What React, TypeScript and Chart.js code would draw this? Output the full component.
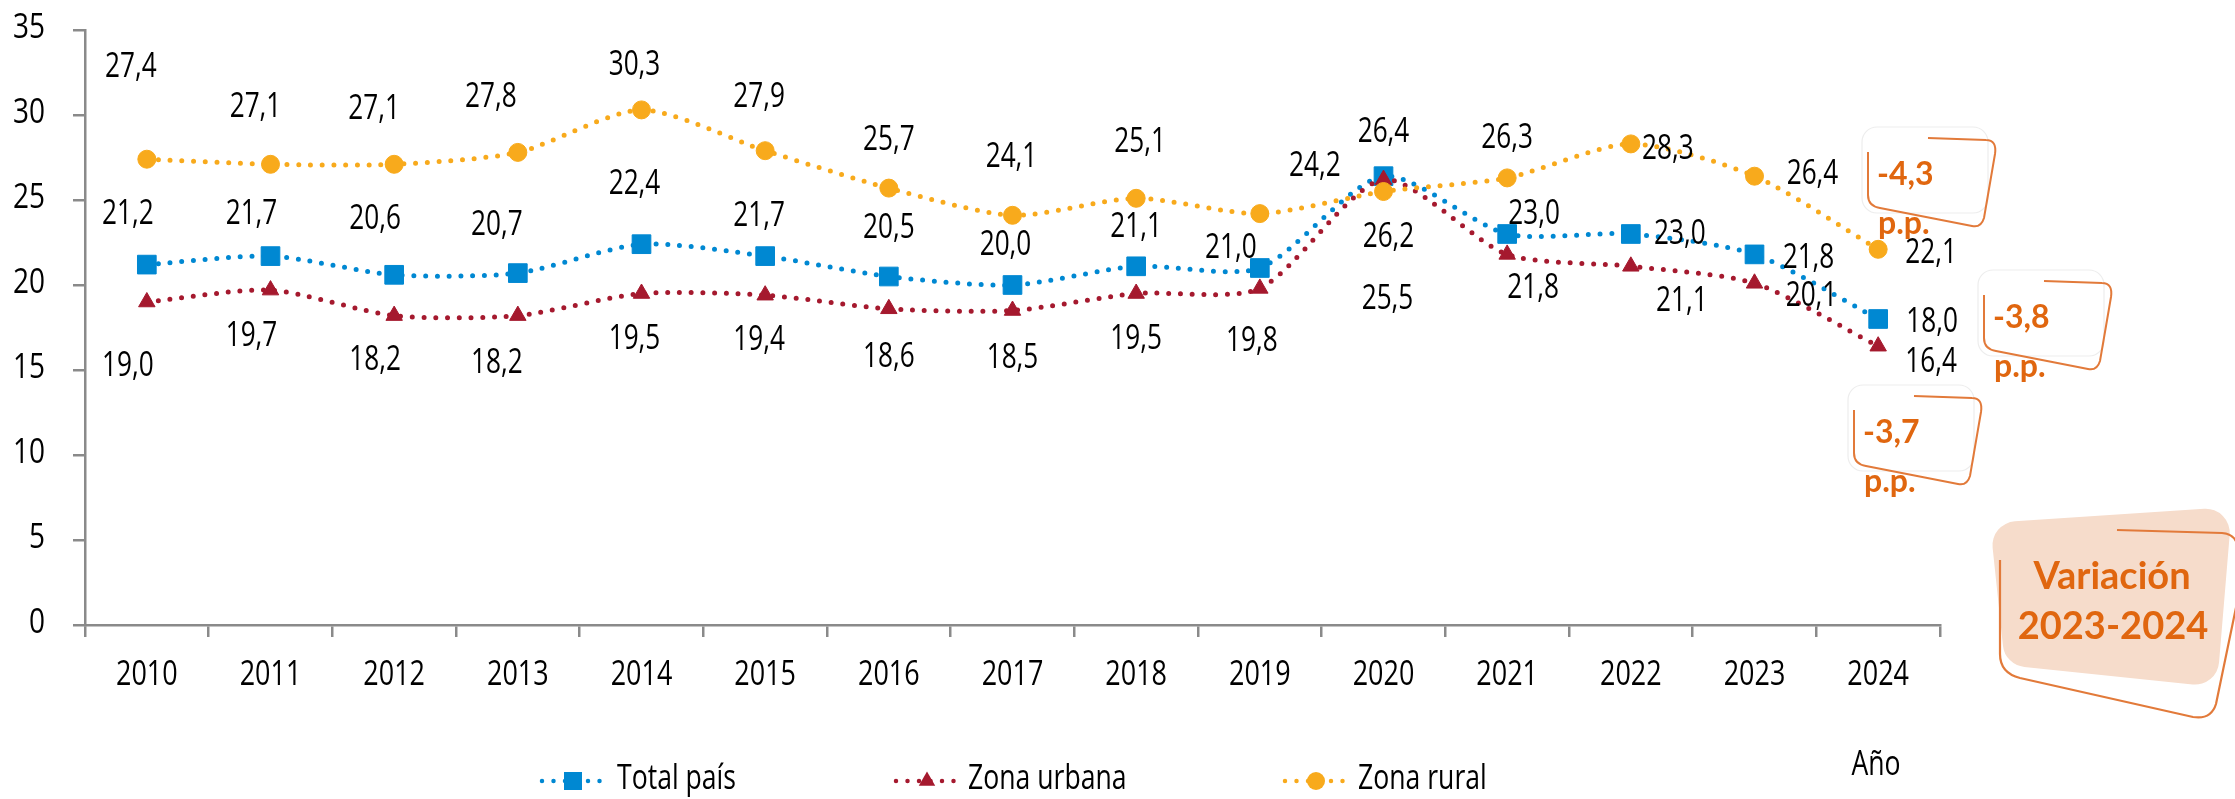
import React, { useEffect, useRef } from 'react';
import { Chart, registerables } from 'chart.js';

Chart.register(...registerables);

// ---------- data ----------
const years = ['2010', '2011', '2012', '2013', '2014', '2015', '2016', '2017', '2018', '2019', '2020', '2021', '2022', '2023', '2024'];
const totalPais = [21.2, 21.7, 20.6, 20.7, 22.4, 21.7, 20.5, 20.0, 21.1, 21.0, 26.4, 23.0, 23.0, 21.8, 18.0];
const zonaUrbana = [19.0, 19.7, 18.2, 18.2, 19.5, 19.4, 18.6, 18.5, 19.5, 19.8, 26.2, 21.8, 21.1, 20.1, 16.4];
const zonaRural = [27.4, 27.1, 27.1, 27.8, 30.3, 27.9, 25.7, 24.1, 25.1, 24.2, 25.5, 26.3, 28.3, 26.4, 22.1];
const yTicks = [0, 5, 10, 15, 20, 25, 30, 35];
const seriesNames = ['Total país', 'Zona urbana', 'Zona rural'];
const xAxisTitle = 'Año';
const variationTitle = ['Variación', '2023-2024'];
const ppUnit = 'p.p.';

// ---------- label placement (pixel offsets from each point) ----------
const totalLabelOffsets = [[-19, -48], [-19, -40], [-19, -53], [-21, -46], [-7, -58], [-6, -38], [0, -46], [-7, -38], [0, -37], [-29, -18], [0, -42], [27, -18], [49, 2], [54, 6], [54, 5]];
const urbanaLabelOffsets = [[-19, 66], [-19, 48], [-19, 47], [-21, 50], [-7, 48], [-6, 47], [0, 51], [0, 50], [0, 48], [-8, 55], [5, 60], [26, 36], [51, 37], [57, 15], [53, 18]];
const ruralLabelOffsets = [[-16, -90], [-15, -55], [-20, -53], [-27, -53], [-7, -43], [-6, -51], [0, -46], [-1, -56], [4, -54], [55, -45], [4, 110], [0, -38], [37, 7], [58, 0], [53, 6]];

// ---------- styles ----------
const SANS = "'Open Sans', 'Noto Sans', sans-serif";
const BOLD = "Lato, 'Open Sans', sans-serif";
const BLUE = '#0088D2';
const RED = '#A5192E';
const YELLOW = '#F8AA1C';
const AXIS = '#8A8A8A';
const ORANGE = '#E0660F';
const ORANGE_LINE = '#E27A3A';
const PEACH = '#F6DCCB';

const fmt = (v: number) => v.toFixed(1).replace('.', ',');
const variation = (arr: number[]) => fmt(arr[arr.length - 1] - arr[arr.length - 2]);

// draws horizontally condensed text (the reference uses a condensed face)
function condText(ctx: CanvasRenderingContext2D, text: string, x: number, y: number, align: CanvasTextAlign, size: number, sx: number) {
  ctx.save();
  ctx.translate(x, y);
  ctx.scale(sx, 1);
  ctx.font = `${size}px ${SANS}`;
  ctx.fillStyle = '#000';
  ctx.textAlign = align;
  ctx.textBaseline = 'middle';
  ctx.fillText(text, 0, 0);
  ctx.restore();
}

function drawMarker(ctx: CanvasRenderingContext2D, style: string, x: number, y: number, color: string) {
  ctx.fillStyle = color;
  ctx.beginPath();
  if (style === 'rect') {
    ctx.rect(x - 9, y - 9, 18, 18);
  } else if (style === 'triangle') {
    const r = 9.5;
    ctx.moveTo(x, y - r);
    ctx.lineTo(x + r * 0.866, y + r * 0.5);
    ctx.lineTo(x - r * 0.866, y + r * 0.5);
    ctx.closePath();
  } else {
    ctx.arc(x, y, 9, 0, Math.PI * 2);
  }
  ctx.fill();
}

function smallBox(ctx: CanvasRenderingContext2D, x: number, y: number, value: string) {
  ctx.save();
  ctx.strokeStyle = '#EDEDED';
  ctx.lineWidth = 1.2;
  ctx.beginPath();
  (ctx as any).roundRect(x, y, 126, 86, 15);
  ctx.stroke();
  ctx.strokeStyle = ORANGE_LINE;
  ctx.lineWidth = 2;
  ctx.beginPath();
  ctx.moveTo(x + 6, y + 25);
  ctx.lineTo(x + 6, y + 68);
  ctx.quadraticCurveTo(x + 6, y + 79, x + 18, y + 81);
  ctx.lineTo(x + 110, y + 99);
  ctx.quadraticCurveTo(x + 119, y + 101, x + 122, y + 91);
  ctx.lineTo(x + 133, y + 27);
  ctx.quadraticCurveTo(x + 135, y + 13, x + 124, y + 13);
  ctx.lineTo(x + 66, y + 11);
  ctx.stroke();
  ctx.fillStyle = ORANGE;
  ctx.textAlign = 'left';
  ctx.textBaseline = 'middle';
  ctx.font = `bold 32px ${BOLD}`;
  ctx.fillText(value, x + 15, y + 48);
  ctx.fillText(ppUnit, x + 16, y + 97);
  ctx.restore();
}

function bigBox(ctx: CanvasRenderingContext2D) {
  ctx.save();
  const pts = [[1990, 523], [2232, 507], [2217, 687], [2005, 665]];
  ctx.fillStyle = PEACH;
  ctx.beginPath();
  const n = pts.length;
  ctx.moveTo((pts[0][0] + pts[n - 1][0]) / 2, (pts[0][1] + pts[n - 1][1]) / 2);
  for (let i = 0; i < n; i++) {
    const p = pts[i];
    const q = pts[(i + 1) % n];
    ctx.arcTo(p[0], p[1], q[0], q[1], 24);
  }
  ctx.closePath();
  ctx.fill();

  ctx.strokeStyle = ORANGE_LINE;
  ctx.lineWidth = 2.2;
  ctx.beginPath();
  ctx.moveTo(2117, 530);
  ctx.lineTo(2222, 533);
  ctx.quadraticCurveTo(2236, 534, 2238, 548);
  ctx.stroke();
  ctx.beginPath();
  ctx.moveTo(2238, 598);
  ctx.lineTo(2216, 704);
  ctx.quadraticCurveTo(2211, 720, 2193, 717);
  ctx.lineTo(2020, 678);
  ctx.quadraticCurveTo(2000, 673, 2000, 654);
  ctx.lineTo(2000, 560);
  ctx.stroke();

  ctx.fillStyle = ORANGE;
  ctx.textAlign = 'center';
  ctx.textBaseline = 'middle';
  ctx.font = `bold 38px ${BOLD}`;
  ctx.fillText(variationTitle[0], 2112, 577);
  ctx.fillText(variationTitle[1], 2113, 627);
  ctx.restore();
}

const dataLabelPlugin = {
  id: 'dataLabels',
  afterDatasetsDraw(chart: any) {
    const ctx: CanvasRenderingContext2D = chart.ctx;
    const offsets = [totalLabelOffsets, urbanaLabelOffsets, ruralLabelOffsets];
    chart.data.datasets.forEach((ds: any, i: number) => {
      const meta = chart.getDatasetMeta(i);
      meta.data.forEach((pt: any, j: number) => {
        const o = offsets[i][j];
        condText(ctx, fmt(ds.data[j]), pt.x + o[0], pt.y + o[1] - 2, 'center', 34, 0.77);
      });
    });
  },
};

const axisLabelPlugin = {
  id: 'axisLabels',
  afterDraw(chart: any) {
    const ctx: CanvasRenderingContext2D = chart.ctx;
    const xs = chart.scales.x;
    const ys = chart.scales.y;
    xs.ticks.forEach((t: any, i: number) => {
      condText(ctx, String(xs.getLabelForValue(t.value)), xs.getPixelForTick(i), xs.top + 50, 'center', 35, 0.77);
    });
    ys.ticks.forEach((t: any) => {
      condText(ctx, String(t.value), ys.right - 40, ys.getPixelForValue(t.value) - 2, 'right', 35, 0.8);
    });
  },
};

const annotationPlugin = {
  id: 'annotations',
  afterDraw(chart: any) {
    const ctx: CanvasRenderingContext2D = chart.ctx;
    smallBox(ctx, 1862, 127, variation(zonaRural));
    smallBox(ctx, 1978, 270, variation(totalPais));
    smallBox(ctx, 1848, 385, variation(zonaUrbana));
    bigBox(ctx);

    const legendY = 781;
    const items = [
      { name: seriesNames[0], color: BLUE, style: 'rect', mx: 573, tx: 617 },
      { name: seriesNames[1], color: RED, style: 'triangle', mx: 927, tx: 968 },
      { name: seriesNames[2], color: YELLOW, style: 'circle', mx: 1316, tx: 1358 },
    ];
    ctx.save();
    items.forEach((it) => {
      ctx.strokeStyle = it.color;
      ctx.lineWidth = 4.5;
      ctx.lineCap = 'round';
      ctx.setLineDash([0, 11.5]);
      ctx.beginPath();
      ctx.moveTo(it.mx - 31, legendY);
      ctx.lineTo(it.mx + 31, legendY);
      ctx.stroke();
      ctx.setLineDash([]);
      drawMarker(ctx, it.style, it.mx, legendY, it.color);
      condText(ctx, it.name, it.tx, legendY - 2, 'left', 35, 0.76);
    });
    condText(ctx, xAxisTitle, 1876, 765, 'center', 35, 0.76);
    ctx.restore();
  },
};

export default function App() {
  const canvasRef = useRef<HTMLCanvasElement | null>(null);

  useEffect(() => {
    if (!canvasRef.current) return;
    const lineDefaults = {
      borderWidth: 5,
      borderDash: [0, 11.7],
      borderCapStyle: 'round' as const,
      tension: 0.25,
      fill: false,
      pointBorderWidth: 1,
    };
    const chart = new Chart(canvasRef.current, {
      type: 'line',
      data: {
        labels: years,
        datasets: [
          {
            ...lineDefaults,
            label: seriesNames[0],
            data: totalPais,
            borderColor: BLUE,
            backgroundColor: BLUE,
            pointBackgroundColor: BLUE,
            pointBorderColor: BLUE,
            pointStyle: 'rect',
            pointRadius: 13.2,
            order: 3,
          },
          {
            ...lineDefaults,
            label: seriesNames[1],
            data: zonaUrbana,
            borderColor: RED,
            backgroundColor: RED,
            pointBackgroundColor: RED,
            pointBorderColor: RED,
            pointStyle: 'triangle',
            pointRadius: 9.5,
            order: 2,
          },
          {
            ...lineDefaults,
            label: seriesNames[2],
            data: zonaRural,
            borderColor: YELLOW,
            backgroundColor: YELLOW,
            pointBackgroundColor: YELLOW,
            pointBorderColor: YELLOW,
            pointStyle: 'circle',
            pointRadius: 9,
            order: 1,
          },
        ],
      },
      options: {
        responsive: false,
        animation: false,
        devicePixelRatio: 1,
        layout: { padding: { top: 30, right: 295, bottom: 74, left: 0 } },
        plugins: { legend: { display: false }, tooltip: { enabled: false } },
        events: [],
        scales: {
          x: {
            offset: true,
            grid: {
              display: true,
              drawOnChartArea: false,
              drawTicks: true,
              tickLength: 12,
              color: AXIS,
              lineWidth: 2.5,
              offset: true,
            },
            border: { display: true, color: AXIS, width: 2.5 },
            ticks: { display: false, autoSkip: false, maxRotation: 0 },
            afterFit: (s: any) => {
              s.height = 100;
            },
          },
          y: {
            min: 0,
            max: 35,
            grid: {
              display: true,
              drawOnChartArea: false,
              drawTicks: true,
              tickLength: 12,
              color: AXIS,
              lineWidth: 2.5,
            },
            border: { display: true, color: AXIS, width: 2.5 },
            ticks: { display: false },
            afterBuildTicks: (s: any) => {
              s.ticks = yTicks.map((v) => ({ value: v }));
            },
            afterFit: (s: any) => {
              s.width = 85;
            },
          },
        },
      },
      plugins: [dataLabelPlugin, axisLabelPlugin, annotationPlugin],
    } as any);
    return () => chart.destroy();
  }, []);

  return (
    <div style={{ position: 'absolute', left: 0, top: 0, width: 2235, height: 799, background: '#fff' }}>
      <canvas ref={canvasRef} width={2235} height={799} style={{ display: 'block', width: 2235, height: 799 }} />
    </div>
  );
}
